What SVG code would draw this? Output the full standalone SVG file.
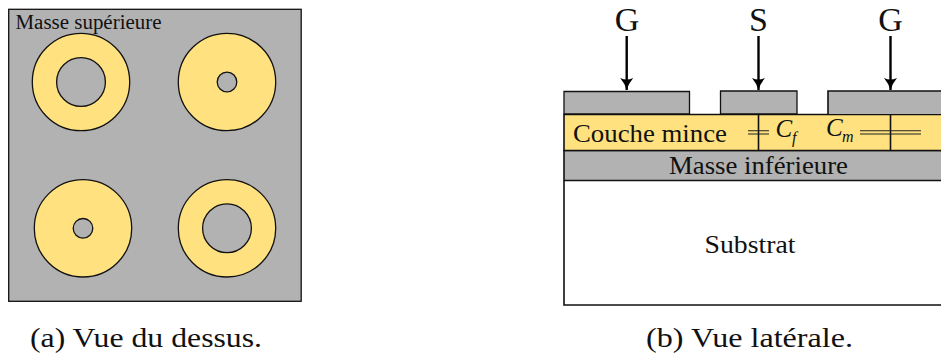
<svg xmlns="http://www.w3.org/2000/svg" width="941" height="356" viewBox="0 0 941 356">
<style>
text{font-family:"Liberation Serif","Times New Roman",serif;fill:#111}
.g{fill:#b2b2b2;stroke:#111;stroke-width:1.3}
.y{fill:#ffe27f;stroke:#111;stroke-width:1.3}
.l{fill:none;stroke:#111;stroke-width:1.6}
.c{fill:none;stroke:#222;stroke-width:1.1}
.a{stroke:#000;stroke-width:2.4;fill:none;marker-end:url(#ah)}
.m{font-size:26px}.big{font-size:34px}
.i{font-style:italic}
</style>
<defs>
<marker id="ah" markerUnits="userSpaceOnUse" markerWidth="14" markerHeight="16" refX="12" refY="7" orient="auto">
<path d="M0 0.500Q6 5.500 12 7Q6 8.500 0 13.500Q3 7 0 0.500Z" fill="#000"/>
</marker>
</defs>
<g id="vue-dessus">
<rect class="g" x="8.700" y="9.300" width="292.500" height="292"/>
<text x="15.500" y="29" font-size="20" textLength="146" lengthAdjust="spacingAndGlyphs">Masse supérieure</text>
</g>
<g id="via1"><circle class="y" cx="81" cy="82" r="48.700"/><circle class="g" cx="81" cy="82" r="24.400"/></g>
<g id="via2"><circle class="y" cx="227" cy="82" r="48.700"/><circle class="g" cx="227" cy="82" r="9.800"/></g>
<g id="via3"><circle class="y" cx="83" cy="228.300" r="48.700"/><circle class="g" cx="83" cy="228.300" r="9.800"/></g>
<g id="via4"><circle class="y" cx="227" cy="228.300" r="48.700"/><circle class="g" cx="227" cy="228.300" r="24.400"/></g>
<g id="substrat">
<path class="l" d="M941 305H564V180.500"/>
<text x="750" y="253" text-anchor="middle" font-size="25" textLength="91" lengthAdjust="spacingAndGlyphs">Substrat</text>
</g>
<g id="masse-inferieure">
<path d="M564 150.500H941V180.500H564Z" fill="#b2b2b2"/>
<path class="l" d="M941 150.500H564V180.500H941"/>
<text class="m" x="669" y="174" textLength="179" lengthAdjust="spacingAndGlyphs">Masse inférieure</text>
</g>
<g id="couche-mince">
<path d="M564 114.500H941V150.500H564Z" fill="#ffe27f"/>
<path class="l" d="M941 114.500H564V150.500H941"/>
<text class="m" x="573" y="142" textLength="154" lengthAdjust="spacingAndGlyphs">Couche mince</text>
</g>
<g id="electrode-g1"><path class="g" d="M564 114V91.500H689.500V114Z"/><text class="big" x="627" y="31" text-anchor="middle">G</text></g>
<g id="electrode-s"><path class="g" d="M720.500 114V91H797V114Z"/><text class="big" x="758.500" y="31" text-anchor="middle">S</text></g>
<g id="electrode-g2"><path d="M828 91H941V114H828Z" fill="#b2b2b2"/><path class="l" d="M941 91H828V114"/><text class="big" x="890.500" y="31" text-anchor="middle">G</text></g>
<g id="connecteurs">
<path class="a" d="M626.700 36V90"/>
<path class="a" d="M758.500 36V90"/>
<path class="a" d="M890.500 36V90"/>
<path class="l" d="M758.500 115V150"/>
<path class="l" d="M890.500 115V150"/>
<path class="c" d="M748 130.700H769M748 134H769"/>
<path class="c" d="M860 130.700H921M860 134H921"/>
</g>
<g id="cf"><text class="i" x="775.500" y="137" font-size="25">C</text><text class="i" x="792" y="143" font-size="16">f</text></g>
<g id="cm"><text class="i" x="826" y="136" font-size="25">C</text><text class="i" x="842" y="142" font-size="16">m</text></g>
<g id="legendes">
<text x="30" y="347" font-size="28" textLength="232" lengthAdjust="spacingAndGlyphs">(a) Vue du dessus.</text>
<text x="646" y="347" font-size="28" textLength="207" lengthAdjust="spacingAndGlyphs">(b) Vue latérale.</text>
</g>
</svg>
